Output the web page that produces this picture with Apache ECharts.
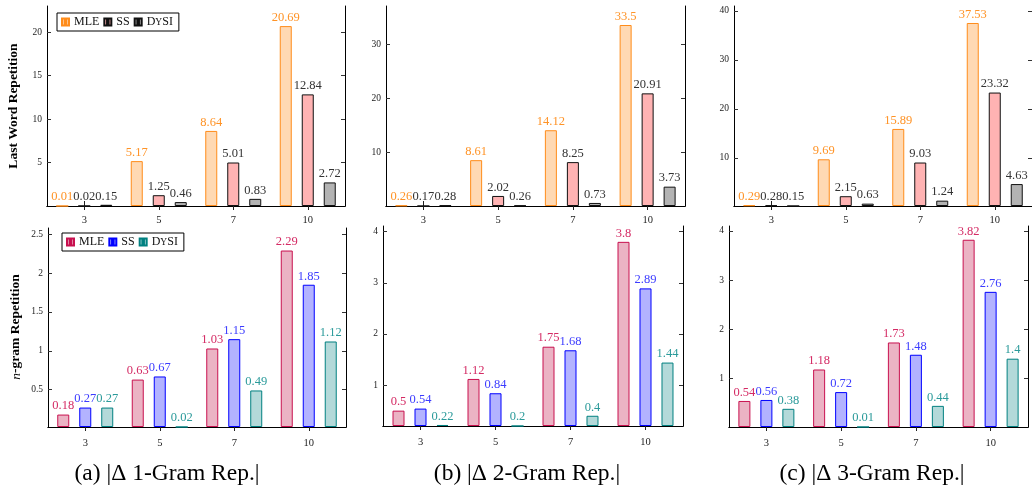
<!DOCTYPE html>
<html>
<head>
<meta charset="utf-8">
<script src="https://cdn.jsdelivr.net/npm/echarts@6/dist/echarts.min.js"></script>
<style>
html,body{margin:0;padding:0;background:#fff;}
#main{width:1032px;height:486px;}
</style>
</head>
<body>
<div id="main"></div>
<script>
// ---- data ----
const categories = ['3', '5', '7', '10'];

// Last Word Repetition (top row)
const lwMLE_a = [0.01, 5.17, 8.64, 20.69];
const lwSS_a  = [0.02, 1.25, 5.01, 12.84];
const lwDy_a  = [0.15, 0.46, 0.83, 2.72];
const lwMLE_b = [0.26, 8.61, 14.12, 33.5];
const lwSS_b  = [0.17, 2.02, 8.25, 20.91];
const lwDy_b  = [0.28, 0.26, 0.73, 3.73];
const lwMLE_c = [0.29, 9.69, 15.89, 37.53];
const lwSS_c  = [0.28, 2.15, 9.03, 23.32];
const lwDy_c  = [0.15, 0.63, 1.24, 4.63];

// n-gram Repetition (bottom row)
const ngMLE_a = [0.18, 0.63, 1.03, 2.29];
const ngSS_a  = [0.27, 0.67, 1.15, 1.85];
const ngDy_a  = [0.27, 0.02, 0.49, 1.12];
const ngMLE_b = [0.5, 1.12, 1.75, 3.8];
const ngSS_b  = [0.54, 0.84, 1.68, 2.89];
const ngDy_b  = [0.22, 0.2, 0.4, 1.44];
const ngMLE_c = [0.54, 1.18, 1.73, 3.82];
const ngSS_c  = [0.56, 0.72, 1.48, 2.76];
const ngDy_c  = [0.38, 0.01, 0.44, 1.4];

// y tick labels per panel
const yTicks_lw_a = [5, 10, 15, 20];
const yTicks_lw_b = [10, 20, 30];
const yTicks_lw_c = [10, 20, 30, 40];
const yTicks_ng_a = [0.5, 1, 1.5, 2, 2.5];
const yTicks_ng_b = [1, 2, 3, 4];
const yTicks_ng_c = [1, 2, 3, 4];

// axis upper limits
const yMax_lw = [23.0, 37.0, 41.0];
const yMax_ng = [2.58, 4.11, 4.10];

const captions = ['(a) |\u0394 1-Gram Rep.|', '(b) |\u0394 2-Gram Rep.|', '(c) |\u0394 3-Gram Rep.|'];
const seriesNames = ['MLE', 'SS', 'DySI'];

// ---- layout / styles ----
const FONT = "'Liberation Serif', 'DejaVu Serif', serif";
const gridsPos = [
  {left: 47, top: 6, width: 298, height: 200},
  {left: 386, top: 6, width: 299, height: 200},
  {left: 734, top: 6, width: 299, height: 200},
  {left: 48, top: 228, width: 298, height: 199},
  {left: 383, top: 226, width: 300, height: 200},
  {left: 729, top: 226, width: 299, height: 201}
];
const topStyles = [
  {fill: '#FFD9B3', stroke: '#FF8C1A', label: '#FF9326'},
  {fill: '#FFB3B3', stroke: '#111111', label: '#333333'},
  {fill: '#B3B3B3', stroke: '#111111', label: '#333333'}
];
const botStyles = [
  {fill: '#EBB3C4', stroke: '#C8104F', label: '#D42A64'},
  {fill: '#B3B3FF', stroke: '#0000FF', label: '#3C3CFF'},
  {fill: '#B3D9D9', stroke: '#008080', label: '#2A9A9A'}
];

const panels = [
  {data: [lwMLE_a, lwSS_a, lwDy_a], ticks: yTicks_lw_a, max: yMax_lw[0], styles: topStyles, suffix: ''},
  {data: [lwMLE_b, lwSS_b, lwDy_b], ticks: yTicks_lw_b, max: yMax_lw[1], styles: topStyles, suffix: ''},
  {data: [lwMLE_c, lwSS_c, lwDy_c], ticks: yTicks_lw_c, max: yMax_lw[2], styles: topStyles, suffix: ''},
  {data: [ngMLE_a, ngSS_a, ngDy_a], ticks: yTicks_ng_a, max: yMax_ng[0], styles: botStyles, suffix: ' '},
  {data: [ngMLE_b, ngSS_b, ngDy_b], ticks: yTicks_ng_b, max: yMax_ng[1], styles: botStyles, suffix: ' '},
  {data: [ngMLE_c, ngSS_c, ngDy_c], ticks: yTicks_ng_c, max: yMax_ng[2], styles: botStyles, suffix: ' '}
];

function fmtNum(v) { return String(parseFloat(v.toFixed(2))); }

const grid = [], xAxis = [], yAxis = [], series = [];
panels.forEach((p, i) => {
  grid.push(Object.assign({containLabel: false}, gridsPos[i]));
  // the axis starts at the smallest value of the panel (as in the original plot);
  // values are measured from that floor so bars rise from the axis line.
  const floor = Math.min(...p.data.flat());
  const baseX = {
    type: 'category', data: categories, gridIndex: i, boundaryGap: true,
    axisLine: {show: true, lineStyle: {color: '#000', width: 1}},
    splitLine: {show: false}
  };
  xAxis.push(Object.assign({}, baseX, {
    position: 'bottom',
    axisTick: {show: true, inside: false, length: 4, alignWithLabel: true, lineStyle: {color: '#222'}},
    axisLabel: {show: true, fontFamily: FONT, fontSize: 10.5, color: '#222', margin: i < 3 ? 9 : 11}
  }));
  xAxis.push(Object.assign({}, baseX, {
    position: 'top',
    axisTick: {show: true, inside: false, length: 5, alignWithLabel: true, lineStyle: {color: '#222'}},
    axisLabel: {show: false}
  }));
  const tickVals = p.ticks.map(t => t - floor);
  const baseY = {
    type: 'value', gridIndex: i, min: 0, max: p.max - floor,
    axisLine: {show: true, lineStyle: {color: '#000', width: 1}},
    splitLine: {show: false}
  };
  yAxis.push(Object.assign({}, baseY, {
    position: 'left',
    axisTick: {show: true, inside: true, length: 4, customValues: tickVals, lineStyle: {color: '#333'}},
    axisLabel: {show: true, customValues: tickVals, formatter: v => fmtNum(v + floor),
      fontFamily: FONT, fontSize: 9.5, color: '#222', margin: 5}
  }));
  yAxis.push(Object.assign({}, baseY, {
    position: 'right',
    axisTick: {show: true, inside: true, length: 4, customValues: tickVals, lineStyle: {color: '#333'}},
    axisLabel: {show: false}
  }));
  p.data.forEach((arr, k) => {
    const st = p.styles[k];
    series.push({
      type: 'bar',
      name: seriesNames[k] + p.suffix,
      xAxisIndex: 2 * i,
      yAxisIndex: 2 * i,
      data: arr.map(v => v - floor),
      barWidth: 12,
      barGap: '83.3%',
      itemStyle: {color: st.fill, borderColor: st.stroke, borderWidth: 1},
      label: {
        show: true, position: 'top', distance: 2,
        formatter: prm => fmtNum(arr[prm.dataIndex]),
        fontFamily: FONT, fontSize: 12.5, color: st.label
      },
      emphasis: {disabled: true},
      animation: false
    });
  });
});

const legendIcon = 'path://M0,0h3.5v9h-3.5z M5.5,0h3.5v9h-3.5z';
function legendFmt(name) {
  const n = name.trim();
  if (n === 'DySI') return '{n|D}{s|Y}{n|SI}';
  return '{n|' + n + '}';
}
const legendRich = {
  n: {fontFamily: FONT, fontSize: 12, color: '#111'},
  s: {fontFamily: FONT, fontSize: 9.5, color: '#111'}
};
function mkLegend(names, left, top) {
  return {
    data: names, left: left, top: top, orient: 'horizontal',
    icon: legendIcon, itemWidth: 7, itemHeight: 9, itemGap: 4,
    borderColor: '#000', borderWidth: 1, padding: [3, 6, 3, 4],
    formatter: legendFmt, textStyle: {rich: legendRich},
    selectedMode: false
  };
}
const legend = [
  mkLegend(seriesNames.slice(), 57, 13),
  mkLegend(seriesNames.map(s => s + ' '), 62, 233)
];

const captionX = [167, 527, 872];
const graphic = captions.map((c, i) => ({
  type: 'text', x: captionX[i], y: 474,
  style: {text: c, font: "23.5px 'Liberation Serif', serif", fill: '#000', textAlign: 'center', textVerticalAlign: 'middle'}
}));
graphic.push({
  type: 'text', x: 14, y: 106, rotation: Math.PI / 2,
  style: {text: 'Last Word Repetition', font: "bold 13.5px 'Liberation Serif', serif", fill: '#000', textAlign: 'center', textVerticalAlign: 'middle'}
});
graphic.push({
  type: 'text', x: 16, y: 327, rotation: Math.PI / 2,
  style: {
    text: '{i|n}{b|-gram Repetition}',
    textAlign: 'center', textVerticalAlign: 'middle',
    rich: {
      i: {fontFamily: FONT, fontStyle: 'italic', fontSize: 13.5, fill: '#000'},
      b: {fontFamily: FONT, fontWeight: 'bold', fontSize: 13.5, fill: '#000'}
    }
  }
});

const chart = echarts.init(document.getElementById('main'), null, {renderer: 'canvas'});
chart.setOption({
  animation: false,
  backgroundColor: '#fff',
  grid, xAxis, yAxis, series, legend, graphic,
  tooltip: {show: false}
});
</script>
</body>
</html>
